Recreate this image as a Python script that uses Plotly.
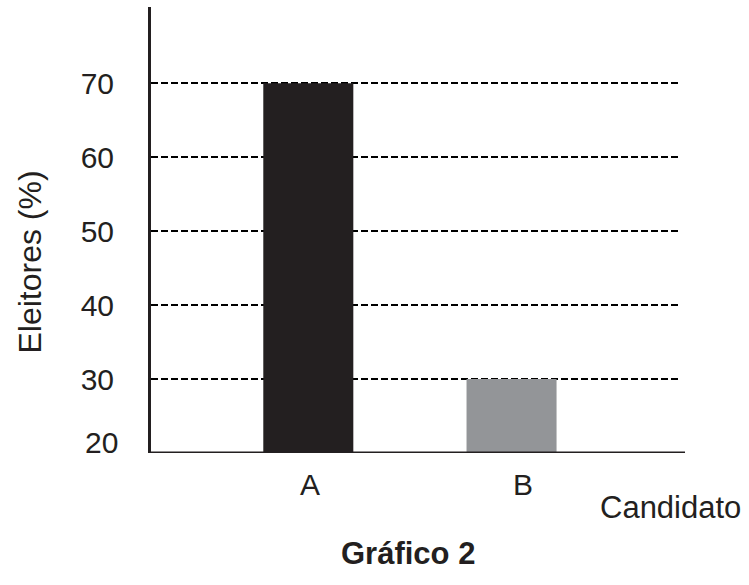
import plotly.graph_objects as go

# data
candidates = ["A", "B"]
voters_pct = [70, 30]
bar_colors = ["#231f20", "#939598"]
y_ticks = [30, 40, 50, 60, 70]

ink = "#231f20"
font_family = "Liberation Sans, Arial, sans-serif"

fig = go.Figure()

fig.add_trace(go.Bar(
    x=candidates,
    y=voters_pct,
    width=0.443,
    marker=dict(color=bar_colors, line=dict(width=0)),
    hoverinfo="none",
))

fig.update_layout(
    width=749, height=585, autosize=False,
    margin=dict(l=151, r=71, t=7, b=132),
    paper_bgcolor="white",
    plot_bgcolor="white",
    showlegend=False,
    font=dict(family=font_family, color=ink, size=30),
)

fig.update_xaxes(
    type="category",
    range=[-0.774, 1.819],
    showgrid=False,
    showline=False,
    showticklabels=False,
    ticks="",
    zeroline=False,
)

fig.update_yaxes(
    range=[20, 80.3],
    tickvals=y_ticks,
    ticktext=[str(v) for v in y_ticks],
    tickfont=dict(size=30, color=ink),
    ticks="",
    ticklabelstandoff=28,
    showgrid=True,
    gridcolor="black",
    gridwidth=2,
    griddash="7px,3px",
    showline=True,
    linecolor=ink,
    linewidth=3,
    zeroline=False,
)

# x axis line runs a little past the dashed grid
fig.add_shape(type="line", xref="paper", yref="y",
              x0=-0.003, x1=1.0133, y0=20, y1=20,
              line=dict(color=ink, width=3), layer="above")

annotations = [
    # lowest tick label sits above the axis line
    dict(text="20", xref="paper", yref="y", x=0, y=20,
         xanchor="right", yanchor="middle", xshift=-31, yshift=11,
         showarrow=False, font=dict(size=30, color=ink)),
    dict(text="Eleitores (%)", xref="paper", yref="paper", x=-0.2296, y=0.427,
         textangle=-90, xanchor="center", yanchor="middle",
         showarrow=False, font=dict(size=32, color=ink)),
    dict(text="Candidato", xref="paper", yref="paper", x=0.848, y=-0.123,
         xanchor="left", yanchor="middle",
         showarrow=False, font=dict(size=31, color=ink)),
    dict(text="<b>Gráfico 2</b>", xref="paper", yref="paper", x=0.4877, y=-0.226,
         xanchor="center", yanchor="middle",
         showarrow=False, font=dict(size=31, color=ink)),
]
shifts = [2, 11]
for cand, dx in zip(candidates, shifts):
    annotations.append(dict(text=cand, xref="x", yref="paper", x=cand, y=0,
                            xanchor="center", yanchor="middle",
                            xshift=dx, yshift=-31,
                            showarrow=False, font=dict(size=30, color=ink)))
fig.update_layout(annotations=annotations)

# drop the default page margin so the figure sits at the window corner
fig.write_html("out.html", config={"displayModeBar": False},
               post_script="document.body.style.margin='0';")
